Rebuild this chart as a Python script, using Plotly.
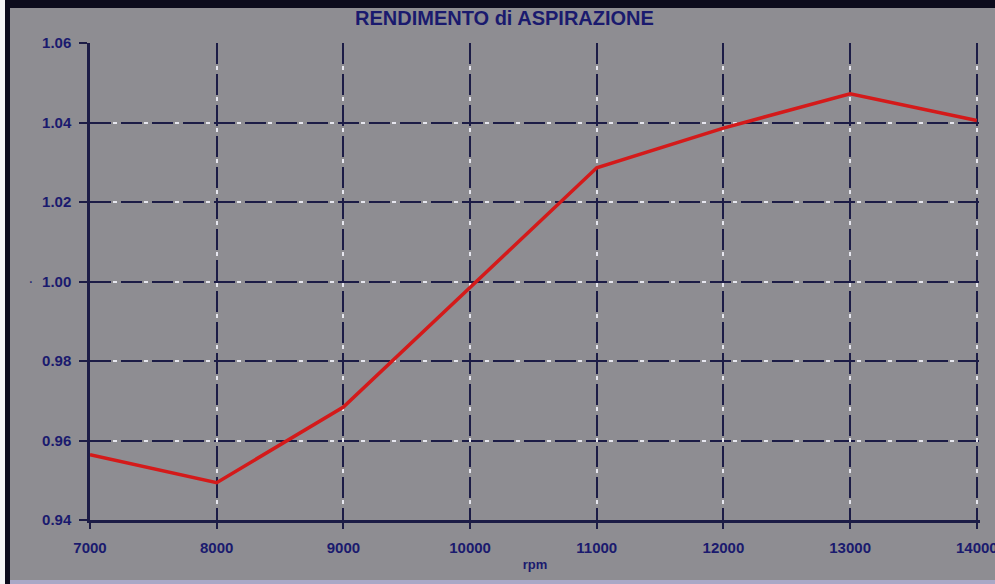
import plotly.graph_objects as go

BG = "#8e8d92"
NAVY = "#1c1c46"
INK = "#1a1a6e"
RED = "#d41a1a"

rpm = [7000, 8000, 9000, 10000, 11000, 12000, 13000, 14000]
rendimento = [0.9564, 0.9494, 0.9684, 0.9984, 1.0286, 1.0386, 1.0472, 1.0405]
x_ticks = [7000, 8000, 9000, 10000, 11000, 12000, 13000, 14000]
y_ticks = [0.94, 0.96, 0.98, 1.00, 1.02, 1.04, 1.06]

L, R, T, B = 90, 15, 43, 64
PW, PH = 995 - L - R, 584 - T - B
FONT = "Liberation Sans, Arial, sans-serif"
# a little room past 14000 so plotly keeps the last vertical grid line
X_RANGE = [7000, 14025]

fig = go.Figure()
# invisible trace that carries the overlay axes (white dots of the grid)
fig.add_trace(go.Scatter(x=rpm, y=rendimento, xaxis="x2", yaxis="y2",
                         mode="lines", line=dict(color="rgba(0,0,0,0)", width=0),
                         hoverinfo="skip", showlegend=False))
fig.add_trace(go.Scatter(x=rpm, y=rendimento, mode="lines",
                         line=dict(color=RED, width=3.5), showlegend=False))

tickfont = dict(family=FONT, size=15, color=INK, weight="bold")

fig.update_layout(
    width=995, height=584,
    paper_bgcolor=BG, plot_bgcolor=BG,
    margin=dict(l=L, r=R, t=T, b=B, autoexpand=False),
    title=dict(text="<b>RENDIMENTO di ASPIRAZIONE</b>", x=0.507, xanchor="center",
               y=1 - 18 / 584, yanchor="middle",
               font=dict(family=FONT, size=20, color=INK)),
    xaxis=dict(range=X_RANGE, tickvals=x_ticks, tickformat="d",
               showgrid=True, gridcolor=NAVY, gridwidth=2, griddash="21px,10px",
               showline=True, linecolor=NAVY, linewidth=2.5,
               ticks="outside", ticklen=6, tickcolor=NAVY, tickwidth=2,
               ticklabelstandoff=6, ticklabeloverflow="allow",
               tickfont=tickfont, zeroline=False,
               title=dict(text="rpm", standoff=6,
                          font=dict(family=FONT, size=13, color=INK, weight="bold"))),
    yaxis=dict(range=[0.94, 1.06], tickvals=y_ticks, tickformat=".2f",
               showgrid=True, gridcolor=NAVY, gridwidth=2, griddash="21px,10px",
               showline=True, linecolor=NAVY, linewidth=2.5,
               ticks="outside", ticklen=8, tickcolor=NAVY, tickwidth=2,
               ticklabelstandoff=5, tickfont=tickfont, zeroline=False),
    xaxis2=dict(range=X_RANGE, tickvals=x_ticks, overlaying="x",
                showgrid=True, gridcolor="#e6e6ee", gridwidth=2,
                griddash="0px,23px,4px,4px", showticklabels=False,
                showline=False, zeroline=False, ticks=""),
    yaxis2=dict(range=[0.94, 1.06], tickvals=y_ticks, overlaying="y",
                showgrid=True, gridcolor="#e6e6ee", gridwidth=2,
                griddash="0px,23px,4px,4px", showticklabels=False,
                showline=False, zeroline=False, ticks=""),
    shapes=[
        # dark frame at top of the screenshot
        dict(type="rect", xref="paper", yref="paper", layer="below",
             x0=-L / PW, x1=1 + R / PW, y0=1 + (T - 8) / PH, y1=1 + T / PH,
             fillcolor="#0c0b1c", line=dict(width=0)),
        # white + dark strips on the left edge
        dict(type="rect", xref="paper", yref="paper", layer="below",
             x0=-L / PW, x1=(5 - L) / PW, y0=-B / PH, y1=1 + T / PH,
             fillcolor="#f4f4f6", line=dict(width=0)),
        dict(type="rect", xref="paper", yref="paper", layer="below",
             x0=(5 - L) / PW, x1=(10 - L) / PW, y0=-B / PH, y1=1 + (T - 8) / PH,
             fillcolor="#0c0b1c", line=dict(width=0)),
        # light band at the bottom
        dict(type="rect", xref="paper", yref="paper", layer="below",
             x0=(10 - L) / PW, x1=1 + R / PW, y0=-B / PH, y1=-(B - 4) / PH,
             fillcolor="#a9a8c6", line=dict(width=0)),
    ],
    annotations=[dict(text="·", x=(27 - L) / PW, y=1 - (281 - T) / PH,
                      xref="paper", yref="paper", showarrow=False,
                      font=dict(size=14, color=INK))],
)

# drop the default page margin so the figure sits at the window origin
fig.write_html("out.html", config={"displayModeBar": False},
               post_script="document.body.style.margin='0';")
